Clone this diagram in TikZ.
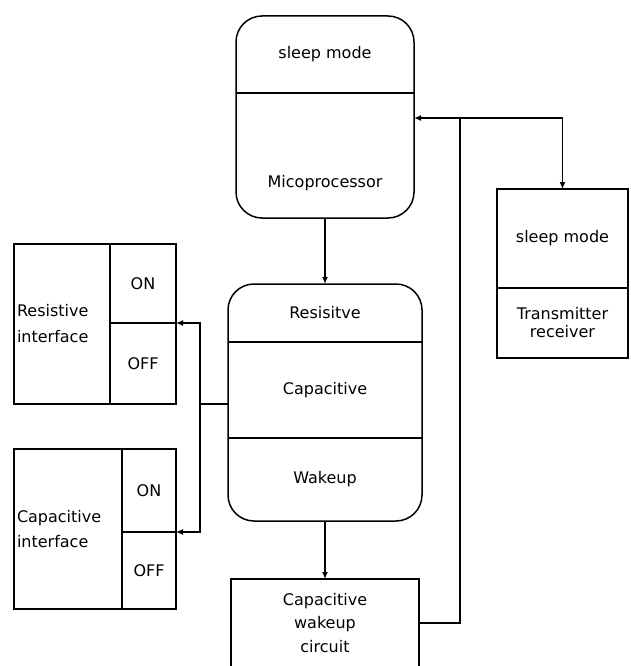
\documentclass[tikz,border=0pt]{standalone}
\usepackage{fontspec}
\setmainfont{DejaVu Sans}
\usetikzlibrary{positioning,arrows.meta}

\begin{document}
\begin{tikzpicture}[x=1pt, y=-1pt,
    every node/.style={font=\fontsize{16}{19}\selectfont, inner sep=3pt, outer sep=0pt},
    part/.style={rectangle, minimum width=#1, text centered},
    cell/.style={rectangle, draw, line width=1.5pt, minimum width=#1, text centered},
    roundbox/.style={draw, line width=1.5pt, rounded corners=26pt},
    wire/.style={line width=1.5pt},
    link/.style={wire, -{Latex[length=7pt, width=6pt]}}
]
\useasboundingbox (0,0) rectangle (630,666);
\clip (0,0) rectangle (630,666);

% Microprocessor
\node[part=178pt, minimum height=77pt] (msleep) at (325,54.5) {sleep mode};
\node[part=178pt, minimum height=125pt, below=0pt of msleep] (mproc) {};
\node (mproctext) at ([yshift=-28pt]mproc.center) {Micoprocessor};
\draw[roundbox] (msleep.north west) rectangle (mproc.south east);
\draw[wire] (msleep.south west) -- (msleep.south east);

% Mode block
\node[part=194pt, minimum height=58pt] (mres) at (325,313) {Resisitve};
\node[part=194pt, minimum height=96pt, below=0pt of mres] (mcap) {Capacitive};
\node[part=194pt, minimum height=83pt, below=0pt of mcap] (mwake) {Wakeup};
\draw[roundbox] (mres.north west) rectangle (mwake.south east);
\draw[wire] (mres.south west) -- (mres.south east);
\draw[wire] (mcap.south west) -- (mcap.south east);

% Transmitter receiver
\node[cell=131pt, minimum height=99pt] (tsleep) at (562.5,238.5) {sleep mode};
\node[cell=131pt, minimum height=70pt, below=0pt of tsleep, align=center,
      font=\fontsize{16}{18}\selectfont] (trx) {Transmitter\\receiver};

% Resistive interface
\node[cell=96pt, minimum height=160pt, align=left, text width=90pt,
      font=\fontsize{16}{26}\selectfont] (rlabel) at (62,324) {Resistive\\interface};
\node[cell=66pt, minimum height=79pt, anchor=north west] (ron) at (rlabel.north east) {ON};
\node[cell=66pt, minimum height=81pt, below=0pt of ron] (roff) {OFF};

% Capacitive interface
\node[cell=108pt, minimum height=160pt, align=left, text width=102pt,
      font=\fontsize{16}{25}\selectfont] (clabel) at (68,529) {Capacitive\\interface};
\node[cell=54pt, minimum height=83pt, anchor=north west] (con) at (clabel.north east) {ON};
\node[cell=54pt, minimum height=77pt, below=0pt of con] (coff) {OFF};

% Wakeup circuit
\node[cell=188pt, minimum height=88pt, align=center,
      font=\fontsize{16}{23.5}\selectfont] (cw) at (325,623) {Capacitive\\wakeup\\circuit};

% Connections
\coordinate (bus) at (460,118);
\coordinate (split) at (200,404);
\draw[link] (mproc.south) -- (mres.north);
\draw[link] (mwake.south) -- (cw.north);
\draw[link] (cw.east) -| (bus) -- (bus -| mproc.east);
\draw[link] (bus) -| (tsleep.north);
\draw[wire] (mcap.west |- split) -- (split);
\draw[link] (split) |- (roff.north east);
\draw[link] (split) |- (con.south east);

\end{tikzpicture}
\end{document}
